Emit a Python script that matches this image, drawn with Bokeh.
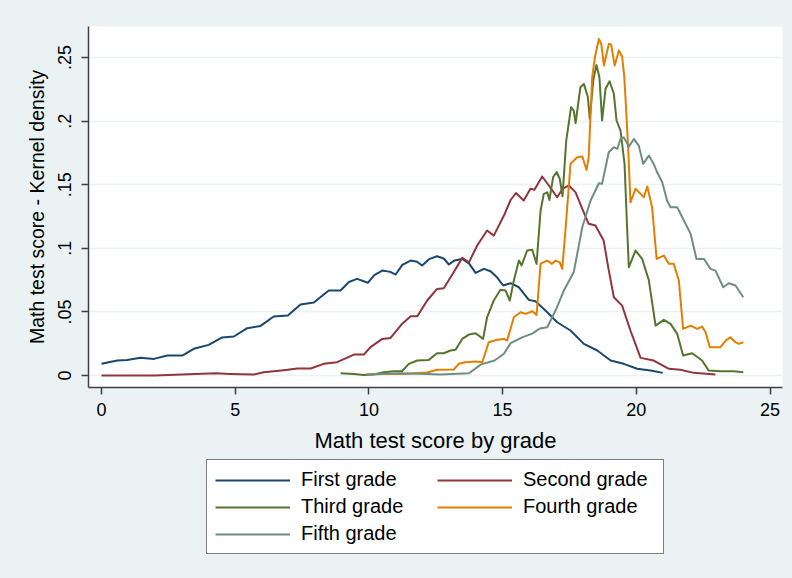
from bokeh.plotting import figure
from bokeh.layouts import column
from bokeh.models import Range1d, FixedTicker, Legend, LegendItem
from bokeh.embed import file_html
from bokeh.resources import INLINE

# ---- data ----
first_x = [0, 0.59, 0.96, 1.46, 1.96, 2.46, 3.02, 3.45, 4.01, 4.51, 4.95, 5.45, 5.95, 6.44, 6.97,
           7.44, 7.94, 8.50, 8.94, 9.25, 9.56, 9.96, 10.2, 10.50, 10.8, 11.0, 11.25, 11.56, 11.8, 11.99,
           12.25, 12.55, 12.8, 12.99, 13.2, 13.49, 13.75, 13.99, 14.30, 14.55, 14.8, 15.02, 15.30,
           15.61, 15.98, 16.23, 16.67, 17.04, 17.54, 18.04, 18.54, 19.04, 19.53, 20.03, 20.53, 20.99]
first_y = [.0092, .0118, .0123, .0139, .0131, .0157, .0157, .021, .0241, .030, .0307, .0372, .039,
           .0464, .0472, .0558, .0574, .0668, .0668, .0735, .076, .0729, .0790, .0825, .0815, .0794,
           .0870, .0904, .0895, .0865, .0915, .0938, .0920, .0873, .0905, .0917, .0880, .0807, .0839,
           .0820, .0770, .0708, .0726, .0694, .0595, .0584, .0498, .0419, .0354, .0249, .0197, .0118,
           .0092, .0053, .0039, .0021]

second_x = [0, 1, 2, 3, 3.5, 4.3, 4.8, 5.7, 6.07, 6.82, 7.32, 7.82, 8.31, 8.81, 9.44, 9.81, 10.06,
            10.50, 10.81, 11.24, 11.56, 11.81, 12.18, 12.55, 12.80, 13.17, 13.49, 13.74, 14.05, 14.42,
            14.67, 15.05, 15.30, 15.50, 15.79, 16.04, 16.19, 16.48, 16.73, 17.04, 17.25, 17.48, 17.73,
            17.98, 18.22, 18.47, 18.78, 18.95, 19.16, 19.47, 19.78, 20.16, 20.65, 21.22, 21.65, 22.15,
            22.96]
second_y = [0, 0, 0, .0008, .0013, .0018, .0013, .0008, .0026, .0042, .0055, .0055, .0092, .0105,
            .0165, .0165, .0223, .0288, .0296, .0406, .0466, .0466, .059, .0681, .0686, .0812, .0925,
            .0890, .1022, .114, .110, .1258, .138, .1435, .1376, .1468, .146, .1565, .1494, .1402,
            .1470, .1494, .144, .131, .1193, .1179, .1061, .0850, .0616, .055, .0354, .0139, .0118,
            .0053, .0045, .0021, .0008]

third_x = [8.94, 9.44, 9.81, 10.18, 10.56, 10.93, 11.24, 11.49, 11.81, 12.24, 12.55, 12.80, 13.05,
           13.24, 13.49, 13.74, 13.99, 14.27, 14.42, 14.67, 14.92, 15.11, 15.27, 15.42, 15.61, 15.71,
           15.92, 16.11, 16.27, 16.42, 16.54, 16.67, 16.75, 16.89, 17.02, 17.14, 17.24, 17.38, 17.56,
           17.66, 17.73, 17.91, 18.04, 18.19, 18.26, 18.39, 18.51, 18.62, 18.72, 18.85, 19.0, 19.16,
           19.26, 19.41, 19.56, 19.66, 19.72, 19.97, 20.22, 20.47, 20.72, 21.03, 21.28, 21.53, 21.75,
           22.09, 22.46, 22.71, 23.15, 23.65, 24.0]
third_y = [.0018, .0013, .0005, .0008, .0026, .0034, .0034, .0092, .0118, .0123, .0175, .0175, .0197,
           .0202, .0288, .0322, .0333, .0288, .0458, .059, .0674, .0668, .059, .0747, .0904, .0865,
           .0983, .0988, .0878, .1297, .1428, .144, .138, .156, .160, .1545, .141, .1847, .211, .2083,
           .1984, .2267, .2293, .2188, .2018, .2319, .2442, .2345, .2005, .2254, .2314, .2215, .2005,
           .1926, .1664, .114, .0851, .0983, .0917, .0747, .0393, .0438, .0406, .0328, .0157, .0175,
           .0118, .0039, .0034, .0034, .0026]

fourth_x = [9.94, 10.56, 11.31, 12.18, 12.55, 13.17, 13.36, 13.61, 13.99, 14.24, 14.48, 14.80, 15.05,
            15.17, 15.42, 15.67, 15.86, 16.11, 16.27, 16.42, 16.67, 16.85, 16.98, 17.14, 17.23, 17.35,
            17.54, 17.79, 17.98, 18.14, 18.22, 18.35, 18.45, 18.60, 18.69, 18.79, 18.97, 19.06, 19.19,
            19.35, 19.47, 19.55, 19.63, 19.70, 19.78, 19.97, 20.16, 20.28, 20.41, 20.59, 20.76, 21.03,
            21.22, 21.40, 21.59, 21.75, 22.03, 22.28, 22.46, 22.59, 22.75, 23.15, 23.34, 23.52, 23.71,
            23.83, 24.0]
fourth_y = [.0008, .0013, .0013, .0024, .0045, .0047, .0092, .0105, .0110, .0105, .0262, .0281, .0288,
            .0275, .0458, .0498, .0485, .0505, .0477, .088, .0904, .0878, .0904, .089, .0839, .114,
            .1664, .1716, .1722, .1617, .1716, .2345, .250, .2646, .2607, .2437, .2607, .2602, .2437,
            .2555, .2508, .2350, .2050, .1769, .1362, .1468, .1428, .1402, .1486, .1323, .0917, .0943,
            .0878, .0878, .0747, .0367, .0393, .0367, .0385, .034, .0223, .0223, .0275, .0301, .0262,
            .0249, .0262]

fifth_x = [9.9, 11.18, 12.18, 12.68, 13.74, 14.2, 14.7, 15.05, 15.30, 15.73, 16.11, 16.39, 16.67,
           16.98, 17.29, 17.66, 17.98, 18.29, 18.60, 18.72, 18.97, 19.16, 19.29, 19.41, 19.53, 19.72,
           19.91, 20.09, 20.26, 20.47, 20.65, 20.78, 20.97, 21.15, 21.28, 21.53, 21.78, 22.03, 22.25,
           22.53, 22.77, 22.96, 23.25, 23.46, 23.71, 24.0]
fifth_y = [.0008, .0018, .0013, .0008, .0018, .0088, .0118, .0171, .0255, .0300, .0330, .037, .038,
           .0511, .0668, .0812, .1166, .1376, .1512, .1507, .1755, .1795, .1782, .186, .1873, .180,
           .186, .1808, .1664, .173, .1664, .1598, .152, .1376, .1323, .1323, .1219, .1114, .0917,
           .0917, .0839, .0825, .0694, .0726, .0708, .0616]

series_names = ["First grade", "Second grade", "Third grade", "Fourth grade", "Fifth grade"]
series_colors = ["#1a476f", "#90353b", "#55752f", "#e37e00", "#6e8e84"]
x_ticks = [0, 5, 10, 15, 20, 25]
y_ticks = [0, 0.05, 0.1, 0.15, 0.2, 0.25]
y_tick_labels = ["0", ".05", ".1", ".15", ".2", ".25"]

FONT = "Liberation Sans"
BG = "#eaf2f3"
MAIN_BOTTOM = 72
MAIN_H = 26 + 361 + MAIN_BOTTOM
LEG_H = 578 - MAIN_H

# ---------------- main plot ----------------
p = figure(frame_width=694, frame_height=361, output_backend="svg", toolbar_location=None,
           x_range=Range1d(-0.486, 25.467), y_range=Range1d(-0.0094, 0.2744),
           min_border_left=88, min_border_right=10, min_border_top=26, min_border_bottom=MAIN_BOTTOM)
p.border_fill_color = BG
p.background_fill_color = "white"
p.outline_line_color = None

xs = [first_x, second_x, third_x, fourth_x, fifth_x]
ys = [first_y, second_y, third_y, fourth_y, fifth_y]
for x, y, c in zip(xs, ys, series_colors):
    p.line(x, y, line_color=c, line_width=2, line_join="round")

p.xgrid.grid_line_color = None
p.ygrid.grid_line_color = BG
p.ygrid.grid_line_width = 1.5

p.xaxis.ticker = FixedTicker(ticks=x_ticks)
p.yaxis.ticker = FixedTicker(ticks=y_ticks)
p.yaxis.major_label_overrides = {t: l for t, l in zip(y_ticks, y_tick_labels)}
p.yaxis.major_label_orientation = "vertical"
for ax in (p.xaxis[0], p.yaxis[0]):
    ax.axis_line_color = "#404040"
    ax.axis_line_width = 1.5
    ax.major_tick_line_color = "#404040"
    ax.major_tick_line_width = 1.5
    ax.major_tick_in = 0
    ax.major_tick_out = 7
    ax.minor_tick_line_color = None
    ax.major_label_text_font = FONT
    ax.major_label_text_font_size = "18px"
    ax.major_label_text_color = "black"
    ax.axis_label_text_font = FONT
    ax.axis_label_text_font_style = "normal"
    ax.axis_label_text_color = "black"
p.xaxis.axis_label = "Math test score by grade"
p.yaxis.axis_label = "Math test score - Kernel density"
p.xaxis.axis_label_text_font_size = "22px"
p.yaxis.axis_label_text_font_size = "19.5px"
p.xaxis.major_label_standoff = 8
p.yaxis.major_label_standoff = 10
p.xaxis.axis_label_standoff = 9
p.yaxis.axis_label_standoff = 8

# ---------------- legend strip ----------------
leg = figure(frame_width=694, frame_height=LEG_H, output_backend="svg", toolbar_location=None,
             x_axis_type=None, y_axis_type=None, x_range=Range1d(0, 1), y_range=Range1d(0, 1),
             min_border_left=88, min_border_right=10, min_border_top=0, min_border_bottom=0)
leg.border_fill_color = BG
leg.background_fill_color = BG
leg.outline_line_color = None
leg.grid.visible = False

items = []
for n, c in zip(series_names, series_colors):
    r = leg.line([-5, -4], [-5, -5], line_color=c, line_width=2)
    items.append(LegendItem(label=n, renderers=[r]))
legend = Legend(items=items, orientation="horizontal", ncols=2,
                location=(206 - 88, 578 - 554),
                label_text_font=FONT, label_text_font_size="20px", label_text_color="black",
                glyph_width=75, glyph_height=20, label_standoff=11, label_height=20,
                label_width=132, padding=8, spacing=4, margin=0,
                border_line_color="black", border_line_width=1,
                background_fill_color="white", background_fill_alpha=1.0)
leg.add_layout(legend, "center")

layout = column(p, leg, spacing=0, styles={"background-color": BG})
open("out.html", "w").write(file_html(layout, INLINE))
